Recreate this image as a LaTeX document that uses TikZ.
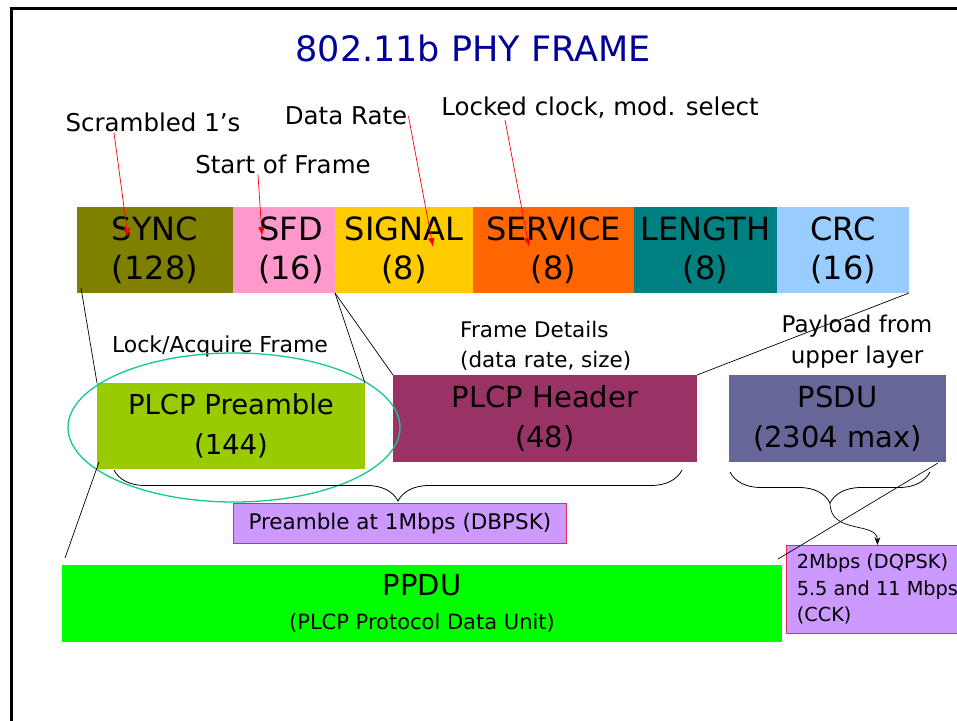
\documentclass[tikz,border=0pt]{standalone}
\usepackage{fontspec}
\setmainfont{DejaVu Sans}
\usepackage{tikz}
\usetikzlibrary{positioning, arrows.meta, shapes.geometric, decorations.pathreplacing}
\definecolor{titleblue}{RGB}{0,0,153}
\definecolor{synccol}{RGB}{128,128,0}
\definecolor{sfdcol}{RGB}{255,153,204}
\definecolor{signalcol}{RGB}{255,204,0}
\definecolor{servicecol}{RGB}{255,102,0}
\definecolor{lengthcol}{RGB}{0,128,128}
\definecolor{crccol}{RGB}{153,204,255}
\definecolor{precol}{RGB}{153,204,0}
\definecolor{hdrcol}{RGB}{153,51,102}
\definecolor{psducol}{RGB}{102,102,153}
\definecolor{ppducol}{RGB}{0,255,0}
\definecolor{ratefill}{RGB}{204,153,255}
\definecolor{rateline}{RGB}{235,40,80}
\definecolor{ringcol}{RGB}{20,200,150}
\tikzset{
        field/.style={minimum height=86pt, inner sep=0pt, outer sep=0pt, align=center, font=\fontsize{32}{39}\selectfont}, % one field of the PLCP header
        unit/.style={inner sep=0pt, outer sep=0pt, align=center, anchor=north west, font=\fontsize{29}{40}\selectfont}, % the big parts of the frame
        note/.style={inner sep=1pt, font=\fontsize{24.5}{30}\selectfont}, % labels above the fields
        small/.style={inner sep=1pt, font=\fontsize{22}{30}\selectfont}, % labels above the parts
        rate/.style={fill=ratefill, draw=rateline, line width=0.8pt, inner sep=0pt, anchor=north west}, % modulation boxes
        redarrow/.style={red, line width=0.7pt, -{Latex[length=9pt,width=6.5pt]}}, % from a label into a field
        link/.style={black, line width=0.7pt}, % zoom lines between rows
        brace/.style={black, line width=0.8pt, decorate, decoration={brace, mirror, amplitude=31pt}},
    }
\begin{document}
\begin{tikzpicture}[x=1pt, y=-1pt]
    \useasboundingbox (0,0) rectangle (957,720);
    \clip (0,0) rectangle (957,720);
    \fill[white] (0,0) rectangle (957,720);
    \draw[line width=3pt] (11,8) rectangle (1100,900);
    \node[font=\fontsize{35}{40}\selectfont, text=titleblue] (title) at (473,48) {802.11b PHY FRAME};

    \node[field, fill=synccol, minimum width=156pt, anchor=north west] (sync) at (77,207) {SYNC\\(128)};
    \node[field, fill=sfdcol, minimum width=102pt, right=0pt of sync] (sfd) {\hspace{14pt}SFD\\\hspace{14pt}(16)};
    \node[field, fill=signalcol, minimum width=138pt, right=0pt of sfd] (signal) {SIGNAL\\(8)};
    \node[field, fill=servicecol, minimum width=161pt, right=0pt of signal] (service) {SERVICE\\(8)};
    \node[field, fill=lengthcol, minimum width=143pt, right=0pt of service] (length) {LENGTH\\(8)};
    \node[field, fill=crccol, minimum width=132pt, right=0pt of length] (crc) {CRC\\(16)};

    \node[note] (scr) at (153,122) {Scrambled 1’s};
    \node[note] (sof) at (283,164) {Start of Frame};
    \node[note] (rate) at (346,116) {Data Rate};
    \node[note] (lock) at (600,108) {Locked clock, mod. select};
    \coordinate (synctip) at (128,237);
    \coordinate (sfdtip) at (262,236);
    \coordinate (signaltip) at (433,247);
    \coordinate (servicetip) at (529,247);
    \draw[redarrow] ([xshift=-39pt]scr.south) -- (synctip);
    \draw[redarrow] ([xshift=-25pt]sof.south) -- (sfdtip);
    \draw[redarrow] (rate.east) -- (signaltip);
    \draw[redarrow] ([xshift=-95pt]lock.south) -- (servicetip);

    \node[unit, fill=precol, minimum width=268pt, minimum height=86pt, font=\fontsize{27.5}{40}\selectfont] (pre) at (97,383) {PLCP Preamble\\(144)};
    \node[unit, fill=hdrcol, minimum width=304pt, minimum height=87pt] (hdr) at (393,375) {PLCP Header\\(48)};
    \node[unit, fill=psducol, minimum width=217pt, minimum height=87pt] (psdu) at (729,375) {PSDU\\(2304 max)};
    \node[small] (acq) at (220,346) {Lock/Acquire Frame};
    \node[small, anchor=west, align=left, font=\fontsize{21.5}{30}\selectfont] (det) at (459,346) {Frame Details\\(data rate, size)};
    \node[small, align=center, font=\fontsize{23}{31}\selectfont] (pay) at (857,342) {Payload from\\upper layer};
    \node[ellipse, draw=ringcol, line width=1.3pt, minimum width=332pt, minimum height=149pt, inner sep=0pt] (ring) at (234,427.5) {};

    \draw[link] ([xshift=4pt,yshift=5pt]sync.south west) -- (pre.north west);
    \draw[link] (sfd.south east) -- (pre.north east);
    \draw[link] (sfd.south east) -- (hdr.north west);
    \draw[link] (crc.south east) -- (hdr.north east);

    \draw[brace] (114,470) -- (682,470);
    \draw[brace] (730,472) -- (930,472);
    \coordinate (psdutip) at (830,503);

    \node[rate, minimum width=333pt, minimum height=40pt, font=\fontsize{21.5}{26}\selectfont] (onembps) at (233,503) {Preamble at 1Mbps (DBPSK)};
    \node[rate, minimum width=182pt, minimum height=88pt, align=left, font=\fontsize{19.3}{26.5}\selectfont] (cck) at (786,545) {2Mbps (DQPSK)\\5.5 and 11 Mbps\\(CCK)};
    \draw[black, line width=0.7pt, -{Stealth[length=8pt,width=6pt]}] (psdutip) .. controls +(0,32) and +(0,-24) .. (cck.north);

    \node[unit, fill=ppducol, minimum width=720pt, minimum height=77pt] (ppdu) at (62,565) {PPDU\\[-6pt]{\fontsize{21}{25}\selectfont (PLCP Protocol Data Unit)}};
    \draw[link] ([xshift=2pt,yshift=7pt]pre.south west) -- ([xshift=3pt,yshift=7pt]ppdu.north west);
    \draw[link] ([xshift=-8pt,yshift=-1pt]psdu.south east) -- ([xshift=-4pt,yshift=6pt]ppdu.north east);
\end{tikzpicture}
\end{document}
